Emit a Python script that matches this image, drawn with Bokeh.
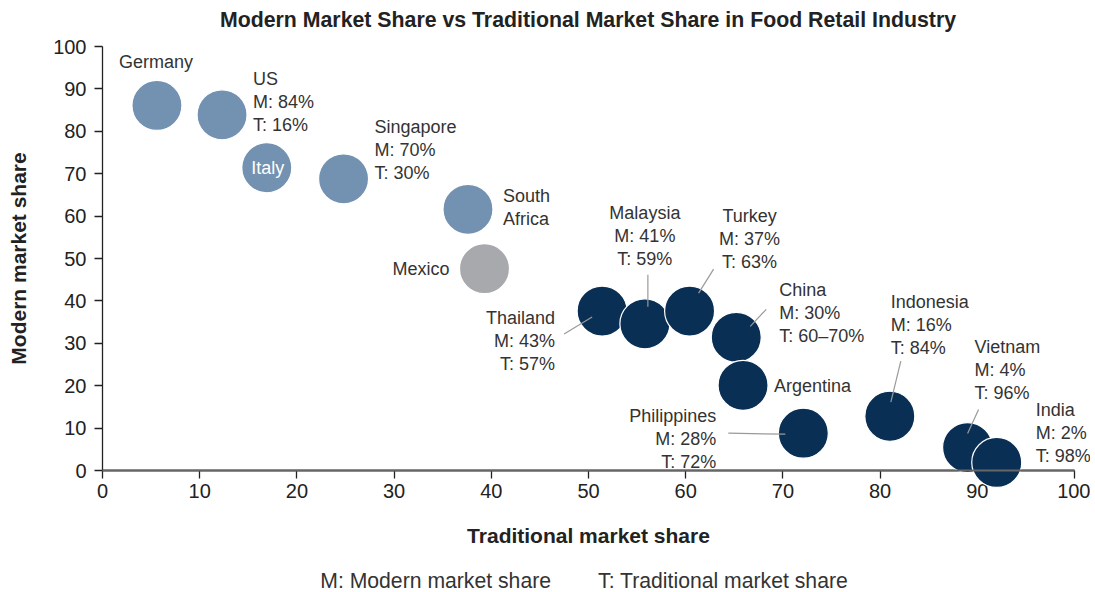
from bokeh.plotting import figure
from bokeh.models import ColumnDataSource, FixedTicker, Div
from bokeh.layouts import column
from bokeh.core.properties import value
from bokeh.embed import file_html
from bokeh.resources import INLINE

# ---------------- data ----------------
countries = ["Germany", "US", "Italy", "Singapore", "South Africa", "Mexico",
             "Thailand", "Malaysia", "Turkey", "China", "Argentina",
             "Philippines", "Indonesia", "Vietnam", "India"]
traditional_share = [5.6, 12.3, 16.9, 24.8, 37.6, 39.3,
                     51.4, 55.8, 60.4, 65.2, 65.9,
                     72.1, 81.0, 89.0, 92.0]
modern_share = [86.1, 83.9, 71.4, 68.8, 61.6, 47.6,
                37.6, 34.6, 37.6, 31.4, 20.1,
                8.8, 12.8, 5.4, 1.9]
groups = ["developed"] * 5 + ["mexico"] + ["emerging"] * 9
label_texts = ["Germany", "US\nM: 84%\nT: 16%", "Italy", "Singapore\nM: 70%\nT: 30%",
               "South\nAfrica", "Mexico", "Thailand\nM: 43%\nT: 57%",
               "Malaysia\nM: 41%\nT: 59%", "Turkey\nM: 37%\nT: 63%",
               "China\nM: 30%\nT: 60\u201370%", "Argentina",
               "Philippines\nM: 28%\nT: 72%", "Indonesia\nM: 16%\nT: 84%",
               "Vietnam\nM: 4%\nT: 96%", "India\nM: 2%\nT: 98%"]
x_ticks = [0, 10, 20, 30, 40, 50, 60, 70, 80, 90, 100]
y_ticks = [0, 10, 20, 30, 40, 50, 60, 70, 80, 90, 100]

title_text = "Modern Market Share vs Traditional Market Share in Food Retail Industry"
x_title = "Traditional market share"
y_title = "Modern market share"
footer_left = "M: Modern market share"
footer_right = "T: Traditional market share"

# ---------------- styling / layout ----------------
group_colors = {"developed": "#7391B1", "mexico": "#A8A9AC", "emerging": "#0A2F55"}
FONT = "Liberation Sans"
TXT = "#333333"

# label placement: (dx, dy) in screen px from the bubble centre, alignment, colour
label_layout = {
    "Germany": (-1, -43, "center", TXT),
    "US": (31, -13, "left", TXT),
    "Italy": (1, 0, "center", "#FFFFFF"),
    "Singapore": (31, -29, "left", TXT),
    "South Africa": (35, -2, "left", TXT),
    "Mexico": (-35, 0, "right", TXT),
    "Thailand": (-47, 30, "right", TXT),
    "Malaysia": (0, -88, "center", TXT),
    "Turkey": (60, -72, "center", TXT),
    "China": (43, -24, "left", TXT),
    "Argentina": (31, 1, "left", TXT),
    "Philippines": (-87, 6, "right", TXT),
    "Indonesia": (1, -91, "left", TXT),
    "Vietnam": (7, -78, "left", TXT),
    "India": (39, -29, "left", TXT),
}
# leader lines: screen px offsets (start, end) from bubble centre
leader_layout = {
    "Thailand": (-38, 23, -10, 6),
    "Malaysia": (3, -49, 3, -17),
    "Turkey": (24, -42, 9, -18),
    "China": (30, -28, 14, -11),
    "Philippines": (-75, 0, -18, 1),
    "Indonesia": (11, -55, 1, -14),
    "Vietnam": (11, -38, 0, -14),
}

W = 1090
TITLE_H, FOOT_H = 34, 32
BL, BT, BB = 102, 12, 88
FW, FH = 972, 424
BR = W - BL - FW
H = BT + FH + BB
PX_X = FW / (x_ticks[-1] - x_ticks[0])
PX_Y = FH / (y_ticks[-1] - y_ticks[0])

p = figure(width=W, height=H, x_range=(x_ticks[0], x_ticks[-1]),
           y_range=(y_ticks[0], y_ticks[-1]),
           output_backend="svg", toolbar_location=None,
           min_border_left=BL, min_border_right=BR,
           min_border_top=BT, min_border_bottom=BB)
p.outline_line_color = None
p.grid.visible = False
p.background_fill_color = "white"
p.border_fill_color = "white"
p.title.text = ""
p.title.text_font_size = "1px"
p.title.standoff = 0
p.title.visible = False

for ax, ticks in ((p.xaxis, x_ticks), (p.yaxis, y_ticks)):
    ax.ticker = FixedTicker(ticks=ticks)
    ax.major_label_text_font = FONT
    ax.major_label_text_font_size = "20px"
    ax.major_label_text_color = "#222222"
    ax.major_tick_in = 0
    ax.major_tick_out = 8
    ax.major_tick_line_color = "#222222"
    ax.major_tick_line_width = 1.3
    ax.minor_tick_line_color = None
    ax.axis_label_text_font = FONT
    ax.axis_label_text_font_size = "21px"
    ax.axis_label_text_font_style = "bold"
    ax.axis_label_text_color = "#222222"

p.xaxis.axis_label = x_title
p.yaxis.axis_label = y_title
p.xaxis.axis_line_color = "#666666"
p.xaxis.axis_line_width = 2
p.yaxis.axis_line_color = "#222222"
p.yaxis.axis_line_width = 1.3
p.xaxis.major_label_standoff = 5
p.yaxis.major_label_standoff = 8
p.xaxis.axis_label_standoff = 23
p.yaxis.axis_label_standoff = 20

# bubbles
src = ColumnDataSource(dict(
    x=traditional_share, y=modern_share, name=countries,
    color=[group_colors[g] for g in groups],
))
p.scatter(x="x", y="y", size=50, fill_color="color", line_color="white",
          line_width=1.2, source=src, level="annotation")

# leader lines
lx0, ly0, lx1, ly1 = [], [], [], []
for c, t, m in zip(countries, traditional_share, modern_share):
    if c in leader_layout:
        a, b, cc, d = leader_layout[c]
        lx0.append(t + a / PX_X)
        ly0.append(m - b / PX_Y)
        lx1.append(t + cc / PX_X)
        ly1.append(m - d / PX_Y)
p.segment(x0=lx0, y0=ly0, x1=lx1, y1=ly1, line_color="#9a9a9a",
          line_width=1.2, level="annotation")

# labels
lab = ColumnDataSource(dict(
    x=traditional_share, y=modern_share, text=label_texts,
    dx=[label_layout[c][0] for c in countries],
    dy=[label_layout[c][1] for c in countries],
    align=[label_layout[c][2] for c in countries],
    color=[label_layout[c][3] for c in countries],
))
p.text(x="x", y="y", text="text", x_offset="dx", y_offset="dy",
       text_align="align", text_baseline="middle", text_color="color",
       text_font=value(FONT), text_font_size="18px", text_line_height=1.15,
       source=lab, level="annotation")

# x axis line redrawn over the bubbles
p.segment(x0=[x_ticks[0]], y0=[y_ticks[0]], x1=[x_ticks[-1]], y1=[y_ticks[0]],
          line_color="#666666", line_width=2, level="annotation")

# chart title above the plot
title_div = Div(text="<b>" + title_text + "</b>",
                width=W, height=TITLE_H, margin=(0, 0, 0, 0),
                styles={"font-family": FONT, "font-size": "21.3px", "color": "#222222",
                        "line-height": "1", "padding-top": "10px",
                        "padding-left": "86px", "text-align": "center",
                        "white-space": "nowrap", "box-sizing": "border-box"})

# footer note below the chart
footer_div = Div(text=footer_left + "&nbsp;" * 8 + footer_right,
                 width=W, height=FOOT_H, margin=(0, 0, 0, 0),
                 styles={"font-family": FONT, "font-size": "21.2px", "color": TXT,
                         "line-height": "1", "padding-top": "12px",
                         "padding-left": "78px", "text-align": "center",
                         "white-space": "nowrap", "box-sizing": "border-box"})

layout = column(title_div, p, footer_div, spacing=0)
open("out.html", "w").write(file_html(layout, INLINE))
